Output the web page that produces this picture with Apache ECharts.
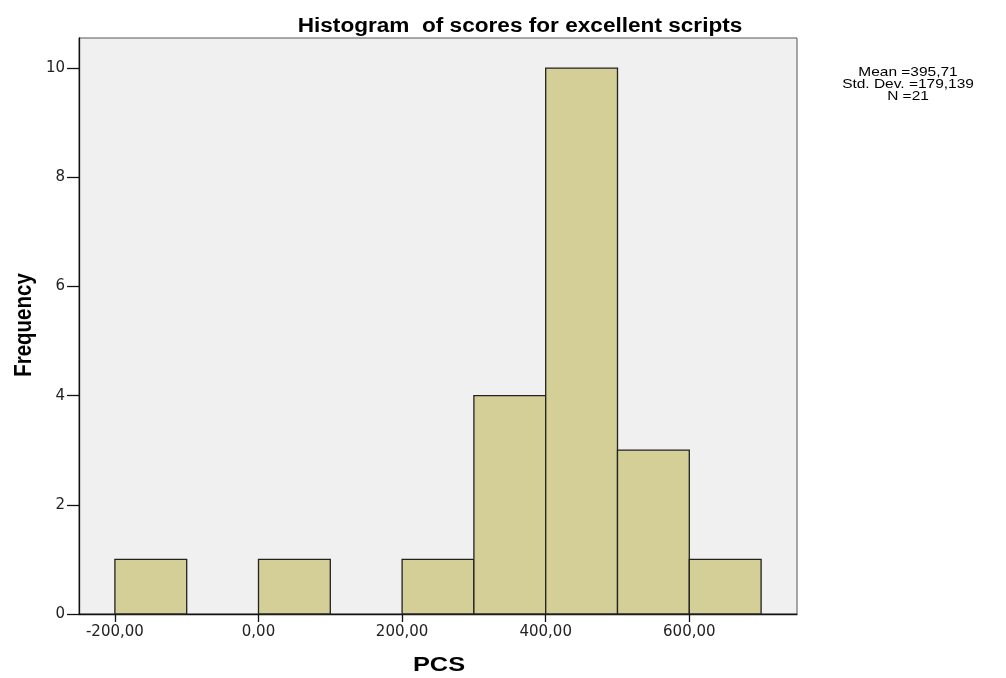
<!DOCTYPE html>
<html>
<head>
<meta charset="utf-8">
<script src="https://cdn.jsdelivr.net/npm/echarts@6/dist/echarts.min.js"></script>
<style>
html,body{margin:0;padding:0;background:#fff;}
#c{width:1006px;height:678px;}
</style>
</head>
<body>
<div id="c"></div>
<script>
var binStarts = [-200, 0, 200, 300, 400, 500, 600];
var binEnds   = [-100, 100, 300, 400, 500, 600, 700];
var counts    = [1, 1, 1, 4, 10, 3, 1];
var xTicks = [-200, 0, 200, 400, 600];
var yTicks = [0, 2, 4, 6, 8, 10];
var statLines = ['Mean =395,71', 'Std. Dev. =179,139', 'N =21'];
var titleText = 'Histogram  of scores for excellent scripts';
var xName = 'PCS';
var yName = 'Frequency';

var data = binStarts.map(function (s, i) { return [s, binEnds[i], counts[i]]; });
var font = 'Liberation Sans, Arial, sans-serif';
var tickFont = 'DejaVu Sans, sans-serif';

var chart = echarts.init(document.getElementById('c'));
chart.setOption({
  animation: false,
  backgroundColor: '#ffffff',
  graphic: [
    {
      type: 'text', x: 520, y: 26, scaleX: 1.13,
      style: { text: titleText, font: 'bold 20px ' + font, fill: '#000',
               textAlign: 'center', textVerticalAlign: 'middle' }
    },
    {
      type: 'text', x: 439, y: 665, scaleX: 1.27,
      style: { text: xName, font: 'bold 20px ' + font, fill: '#000',
               textAlign: 'center', textVerticalAlign: 'middle' }
    },
    {
      type: 'text', x: 24, y: 325, rotation: Math.PI / 2, scaleY: 1.2,
      style: { text: yName, font: 'bold 20.5px ' + font, fill: '#000',
               textAlign: 'center', textVerticalAlign: 'middle' }
    },
    {
      type: 'text', x: 908, y: 72, scaleX: 1.19,
      style: { text: statLines[0], font: '13px ' + font, fill: '#000',
               textAlign: 'center', textVerticalAlign: 'middle' }
    },
    {
      type: 'text', x: 908, y: 84, scaleX: 1.19,
      style: { text: statLines[1], font: '13px ' + font, fill: '#000',
               textAlign: 'center', textVerticalAlign: 'middle' }
    },
    {
      type: 'text', x: 908, y: 96, scaleX: 1.19,
      style: { text: statLines[2], font: '13px ' + font, fill: '#000',
               textAlign: 'center', textVerticalAlign: 'middle' }
    }
  ],
  grid: {
    left: 79, right: 209, top: 38, bottom: 64,
    show: true, backgroundColor: '#f0f0f0', borderColor: '#555', borderWidth: 1
  },
  xAxis: {
    type: 'value', min: -250, max: 750,
    axisLine: { show: true, onZero: false, lineStyle: { color: '#111', width: 1.3 } },
    axisTick: { show: true, length: 8, customValues: xTicks, lineStyle: { color: '#111', width: 1.3 } },
    axisLabel: {
      customValues: xTicks, margin: 11,
      fontFamily: tickFont, fontSize: 15, color: '#222',
      formatter: function (v) { return v.toFixed(2).replace('.', ','); }
    },
    splitLine: { show: false }
  },
  yAxis: {
    type: 'value', min: 0, max: 10.55,
    axisLine: { show: true, onZero: false, lineStyle: { color: '#111', width: 1.3 } },
    axisTick: { show: true, length: 12, customValues: yTicks, lineStyle: { color: '#111', width: 1.3 } },
    axisLabel: {
      customValues: yTicks, margin: 14,
      fontFamily: tickFont, fontSize: 15, color: '#222'
    },
    splitLine: { show: false }
  },
  series: [{
    type: 'custom',
    data: data,
    encode: { x: [0, 1], y: 2 },
    renderItem: function (params, api) {
      var p0 = api.coord([api.value(0), api.value(2)]);
      var p1 = api.coord([api.value(1), 0]);
      return {
        type: 'rect',
        shape: { x: p0[0], y: p0[1], width: p1[0] - p0[0], height: p1[1] - p0[1] },
        style: { fill: '#d3cf97', stroke: '#222', lineWidth: 1.3 }
      };
    }
  }]
});
</script>
</body>
</html>
